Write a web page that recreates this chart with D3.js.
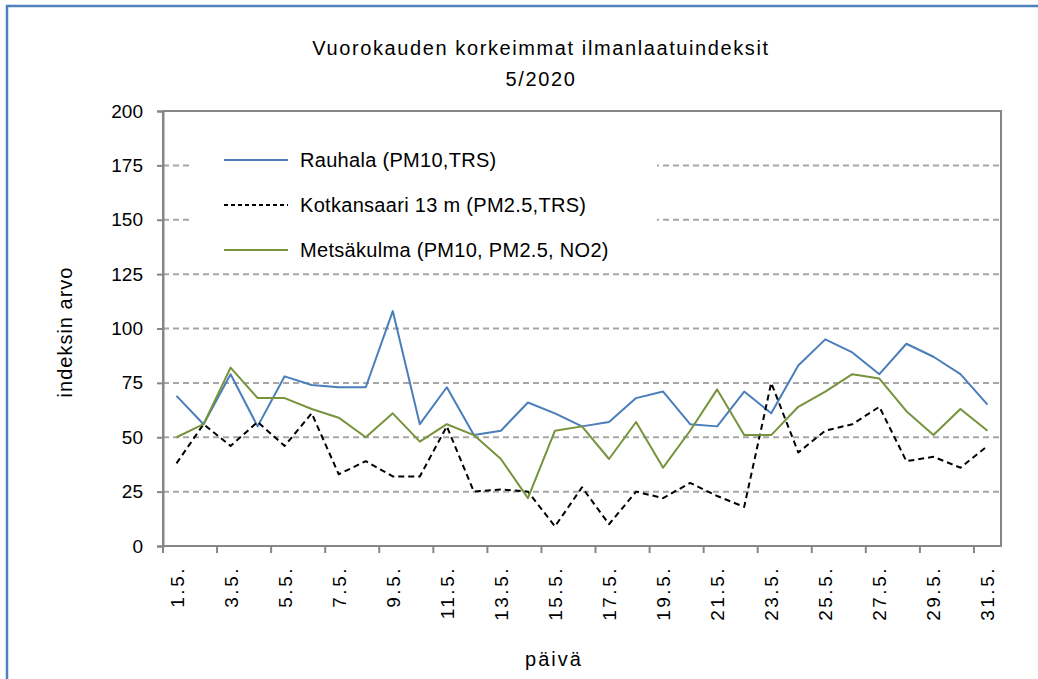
<!DOCTYPE html>
<html>
<head>
<meta charset="utf-8">
<script src="https://cdnjs.cloudflare.com/ajax/libs/d3/7.8.5/d3.min.js"></script>
<style>
  body { margin: 0; background: #fff; }
  text { font-family: "Liberation Sans", Arial, sans-serif; fill: #000; }
</style>
</head>
<body>
<div id="chart"></div>
<script>
const days = d3.range(1, 32).map(d => d + '.5.');
const rauhala = [69,56,79,55,78,74,73,73,108,56,73,51,53,66,61,55,57,68,71,56,55,71,61,83,95,89,79,93,87,79,65];
const kotkansaari = [38,56,46,57,46,61,33,39,32,32,55,25,26,25,9,27,10,25,22,29,23,18,75,43,53,56,64,39,41,36,46];
const metsakulma = [50,56,82,68,68,63,59,50,61,48,56,51,40,22,53,55,40,57,36,53,72,51,51,64,71,79,77,62,51,63,53];
const yTicks = [0,25,50,75,100,125,150,175,200];

const series = [
  { name: 'Rauhala (PM10,TRS)', values: rauhala, color: '#4a7ebb', dash: null, legendDash: null },
  { name: 'Kotkansaari 13 m (PM2.5,TRS)', values: kotkansaari, color: '#000', dash: '6,4', legendDash: '4,3' },
  { name: 'Metsäkulma (PM10, PM2.5, NO2)', values: metsakulma, color: '#77933c', dash: null, legendDash: null }
];

const width = 1038, height = 679;
const plotL = 163, plotR = 1001, plotT = 111, plotB = 546;

const svg = d3.select('#chart').append('svg')
  .attr('width', width)
  .attr('height', height);

// outer chart border (cut off at right and bottom)
svg.append('rect')
  .attr('x', 7).attr('y', 6)
  .attr('width', 1100).attr('height', 800)
  .attr('fill', 'none')
  .attr('stroke', '#4f81bd')
  .attr('stroke-width', 2.5);

const x = d3.scaleBand().domain(days).range([plotL, plotR]);
const y = d3.scaleLinear().domain([0, 200]).range([plotB, plotT]);

// gridlines
svg.append('g')
  .selectAll('line')
  .data(yTicks.filter(t => t > 0 && t < 200))
  .join('line')
  .attr('x1', plotL).attr('x2', plotR)
  .attr('y1', d => y(d)).attr('y2', d => y(d))
  .attr('stroke', '#a6a6a6')
  .attr('stroke-width', 2)
  .attr('stroke-dasharray', '6,4');

// plot area border
svg.append('rect')
  .attr('x', plotL).attr('y', plotT)
  .attr('width', plotR - plotL).attr('height', plotB - plotT)
  .attr('fill', 'none')
  .attr('stroke', '#868686')
  .attr('stroke-width', 2);

// y axis
const yAxis = svg.append('g')
  .attr('transform', `translate(${plotL},0)`)
  .call(d3.axisLeft(y).tickValues(yTicks).tickSize(6).tickPadding(14));
yAxis.select('.domain').attr('stroke', '#868686').attr('stroke-width', 2);
yAxis.selectAll('.tick line').attr('stroke', '#868686').attr('stroke-width', 2);
yAxis.selectAll('.tick text')
  .style('font-family', '"Liberation Sans", Arial, sans-serif')
  .style('font-size', '19px')
  .attr('fill', '#000');

// x axis: ticks at every second band boundary
const xAxis = svg.append('g')
  .attr('transform', `translate(0,${plotB})`);
xAxis.append('line')
  .attr('x1', plotL).attr('x2', plotR)
  .attr('stroke', '#868686').attr('stroke-width', 2);
const boundaries = days.filter((d, i) => i % 2 === 0);
xAxis.selectAll('line.tk')
  .data(boundaries)
  .join('line')
  .attr('class', 'tk')
  .attr('x1', d => x(d)).attr('x2', d => x(d))
  .attr('y1', 0).attr('y2', 7)
  .attr('stroke', '#868686').attr('stroke-width', 2);
xAxis.selectAll('text')
  .data(boundaries)
  .join('text')
  .attr('transform', d => `translate(${x(d) + x.bandwidth() / 2 + 7},20) rotate(-90)`)
  .attr('text-anchor', 'end')
  .style('font-size', '19px')
  .style('letter-spacing', '2.5px')
  .text(d => d);

// lines
const line = d3.line()
  .x((d, i) => x(days[i]) + x.bandwidth() / 2)
  .y(d => y(d));

svg.append('g')
  .selectAll('path')
  .data(series)
  .join('path')
  .attr('d', s => line(s.values))
  .attr('fill', 'none')
  .attr('stroke', s => s.color)
  .attr('stroke-width', 2)
  .attr('stroke-dasharray', s => s.dash)
  .attr('stroke-linejoin', 'round');

// legend
const legend = svg.append('g');
legend.append('rect')
  .attr('x', 193).attr('y', 140)
  .attr('width', 464).attr('height', 128)
  .attr('fill', '#fff');
const items = legend.selectAll('g')
  .data(series)
  .join('g')
  .attr('transform', (d, i) => `translate(224,${160 + i * 45})`);
items.append('line')
  .attr('x1', 0).attr('x2', 64)
  .attr('stroke', d => d.color)
  .attr('stroke-width', 2)
  .attr('stroke-dasharray', d => d.legendDash);
items.append('text')
  .attr('x', 76).attr('y', 7)
  .style('font-size', '20px')
  .style('letter-spacing', '0.3px')
  .text(d => d.name);

// titles
const title = svg.append('text')
  .attr('x', 541).attr('text-anchor', 'middle')
  .style('font-size', '20px')
  .style('letter-spacing', '1.6px');
title.append('tspan').attr('x', 541).attr('y', 55).text('Vuorokauden korkeimmat ilmanlaatuindeksit');
title.append('tspan').attr('x', 541).attr('y', 86).text('5/2020');

svg.append('text')
  .attr('transform', 'translate(72,332) rotate(-90)')
  .attr('text-anchor', 'middle')
  .style('font-size', '20px')
  .style('letter-spacing', '1px')
  .text('indeksin arvo');

svg.append('text')
  .attr('x', 554).attr('y', 666)
  .attr('text-anchor', 'middle')
  .style('font-size', '20px')
  .style('letter-spacing', '2px')
  .text('päivä');
</script>
</body>
</html>
